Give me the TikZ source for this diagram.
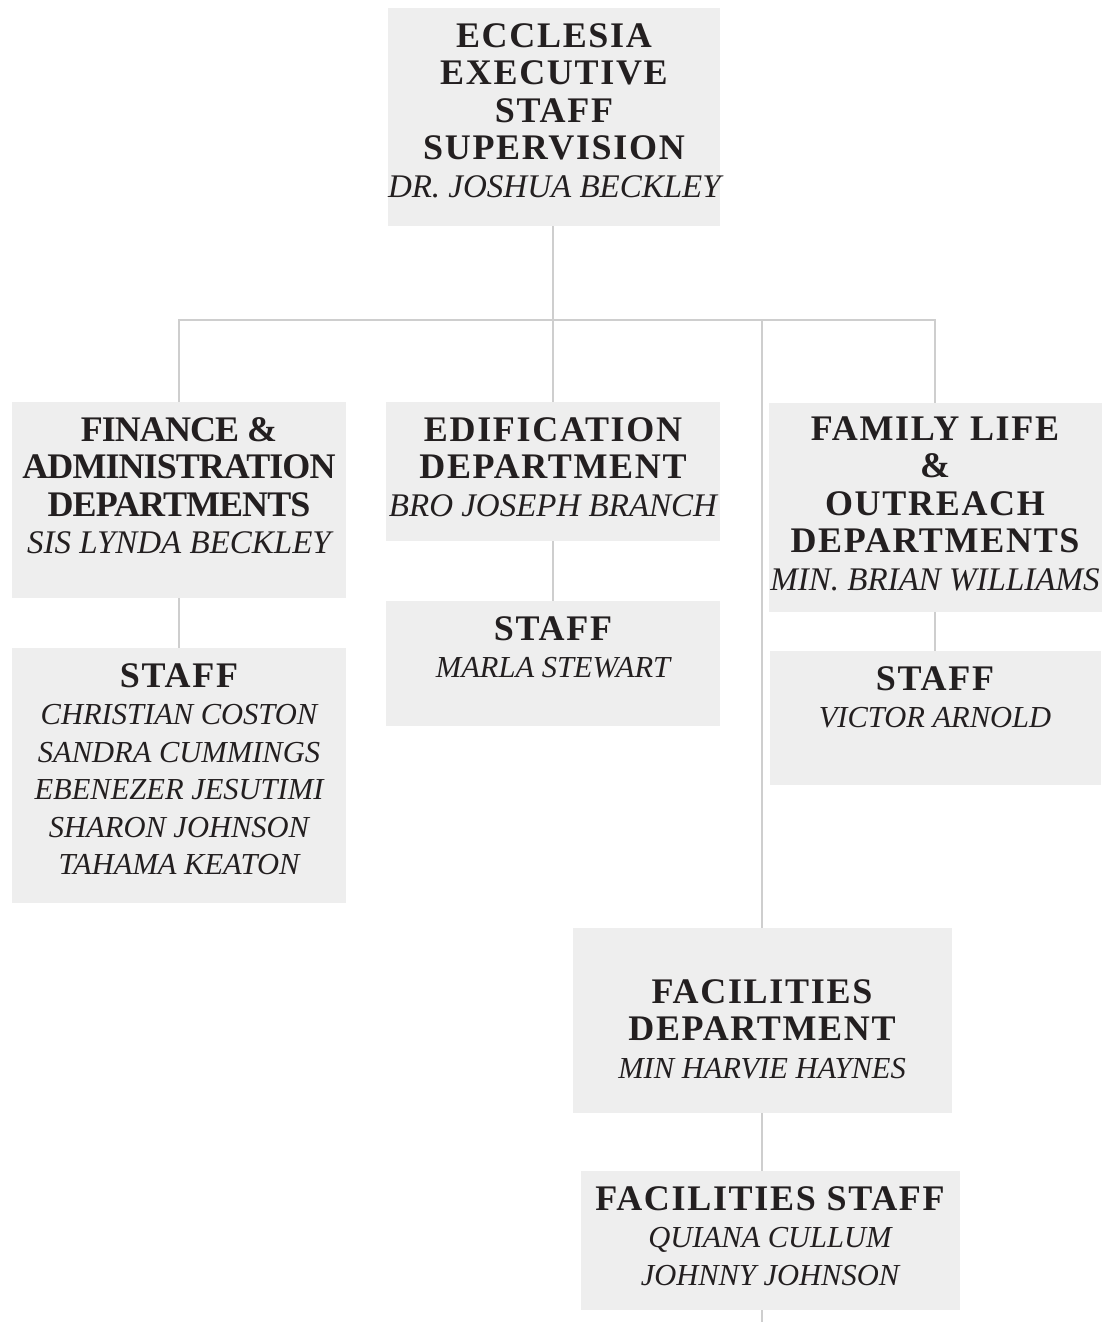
\documentclass[tikz,border=0pt]{standalone}
\usepackage{fontspec}
\setmainfont{Liberation Serif}
\newfontfamily\espace[LetterSpace=4.7]{Liberation Serif}
\newfontfamily\serre[LetterSpace=-2.6]{Liberation Serif}
\usepackage{tikz}
\usetikzlibrary{positioning}
\definecolor{fondboite}{HTML}{EEEEEE}
\definecolor{trait}{HTML}{CECECE}
\definecolor{encre}{HTML}{231F20}
\newcommand{\titre}[1]{\mbox{\fontsize{36}{37.5}\selectfont\espace\bfseries #1}}
\newcommand{\titreserre}[1]{\mbox{\fontsize{36}{37.5}\selectfont\serre\bfseries #1}}
\newcommand{\nom}[1]{\mbox{\itshape #1}}
\newcommand{\membre}[1]{\mbox{\fontsize{30.5}{37.5}\selectfont\itshape #1}}

\begin{document}
\begin{tikzpicture}[x=1pt, y=-1pt,
    boite/.style 2 args={fill=fondboite, anchor=north, inner sep=0pt,
        text width=#1, align=flush center, text height=39pt, text depth=#2,
        text=encre, font=\fontsize{33}{37.5}\selectfont\frenchspacing},
    lien/.style={draw=trait, line width=2.5pt}]
    % cadre
    \useasboundingbox (0,0) rectangle (1113,1322);
    %direction
    \node[boite={332pt}{179pt}] (dir) at (554,8)
        {\titre{ECCLESIA}\\\titre{EXECUTIVE}\\\titre{STAFF}\\\titre{SUPERVISION}\\\nom{DR. JOSHUA BECKLEY}};
    %départements
    \node[boite={334pt}{157pt}] (fin) at (179,402)
        {\titreserre{FINANCE \&}\\\titreserre{ADMINISTRATION}\\\titreserre{DEPARTMENTS}\\\nom{SIS LYNDA BECKLEY}};
    \node[boite={334pt}{100pt}] (edif) at (553,402)
        {\titre{EDIFICATION}\\\titre{DEPARTMENT}\\\nom{BRO JOSEPH BRANCH}};
    \node[boite={333pt}{172pt}, text height=37pt] (fam) at (935,403)
        {\titre{FAMILY LIFE}\\\titre{\&}\\\titre{OUTREACH}\\\titre{DEPARTMENTS}\\\nom{MIN. BRIAN WILLIAMS}};
    \node[boite={379pt}{110pt}, text height=75pt] (fac) at (762,928)
        {\titre{FACILITIES}\\\titre{DEPARTMENT}\\\membre{MIN HARVIE HAYNES}};
    %personnel
    \node[boite={334pt}{216pt}] (finstaff) at (179,648)
        {\titre{STAFF}\\\membre{CHRISTIAN COSTON}\\\membre{SANDRA CUMMINGS}\\\membre{EBENEZER JESUTIMI}\\\membre{SHARON JOHNSON}\\\membre{TAHAMA KEATON}};
    \node[boite={334pt}{86pt}] (edifstaff) at (553,601)
        {\titre{STAFF}\\\membre{MARLA STEWART}};
    \node[boite={331pt}{95pt}] (famstaff) at (935,651)
        {\titre{STAFF}\\\membre{VICTOR ARNOLD}};
    \node[boite={379pt}{100pt}] (facstaff) at (770,1171)
        {\titre{FACILITIES STAFF}\\\membre{QUIANA CULLUM}\\\membre{JOHNNY JOHNSON}};
    %liaisons
    \coordinate (bus) at (553,320);
    \coordinate (bas) at (762,1322);
    \draw[lien] (edif.north |- dir.south) -- (edif.north);
    \draw[lien] (fin.north) |- (bus) -| (fam.north);
    \draw[lien] (bus -| fac.north) -- (fac.north);
    \draw[lien] (fin.south) -- (finstaff.north);
    \draw[lien] (edif.south) -- (edifstaff.north);
    \draw[lien] (fam.south) -- (fam.south |- famstaff.north);
    \draw[lien] (fac.south) -- (fac.south |- facstaff.north);
    \draw[lien] (fac.south |- facstaff.south) -- (bas);
\end{tikzpicture}
\end{document}
